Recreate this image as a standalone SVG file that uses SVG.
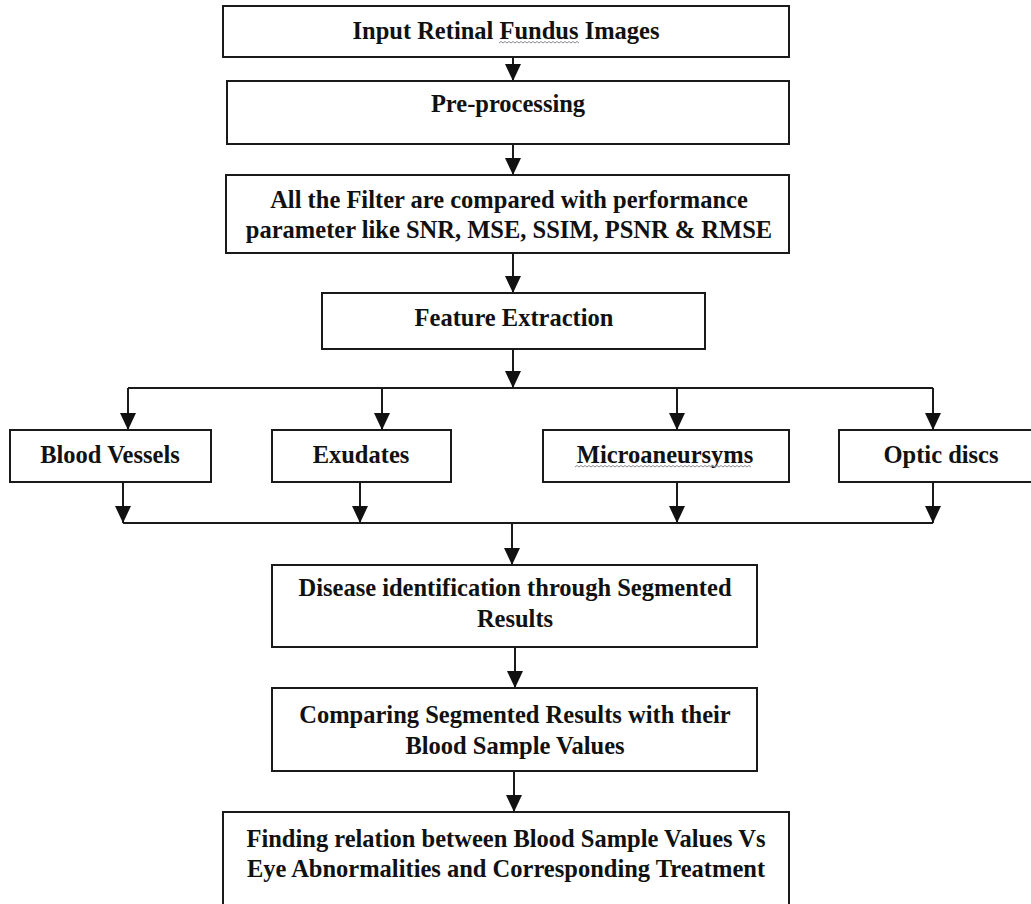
<svg xmlns="http://www.w3.org/2000/svg" width="1031" height="904" viewBox="0 0 1031 904">
<style>
.box{fill:#fff;stroke:#1a1a1a;stroke-width:2}
.t{font-family:"Liberation Serif","Times New Roman",serif;font-weight:bold;font-size:24.5px;fill:#111;text-anchor:middle}
.c{fill:none;stroke:#1a1a1a;stroke-width:2}
.sq{fill:none;stroke:#8a8a9a;stroke-width:1}
</style>
<defs>
<marker id="arr" viewBox="0 0 17 16" refX="17" refY="8" markerWidth="17" markerHeight="16" markerUnits="userSpaceOnUse" orient="auto">
<path d="M0,0 L17,8 L0,16 Z" fill="#111"/>
</marker>
</defs>
<rect width="1031" height="904" fill="#fff"/>
<g id="connectors">
<line class="c" x1="513" y1="57" x2="513" y2="81" marker-end="url(#arr)"/>
<line class="c" x1="513" y1="133" x2="513" y2="175" marker-end="url(#arr)"/>
<line class="c" x1="513" y1="253" x2="513" y2="293" marker-end="url(#arr)"/>
<line class="c" x1="513" y1="349" x2="513" y2="388" marker-end="url(#arr)"/>
<polyline class="c" points="128,388 933,388"/>
<line class="c" x1="128" y1="388" x2="128" y2="430" marker-end="url(#arr)"/>
<line class="c" x1="382" y1="388" x2="382" y2="430" marker-end="url(#arr)"/>
<line class="c" x1="677" y1="388" x2="677" y2="430" marker-end="url(#arr)"/>
<line class="c" x1="933" y1="388" x2="933" y2="430" marker-end="url(#arr)"/>
<line class="c" x1="123" y1="482" x2="123" y2="523" marker-end="url(#arr)"/>
<line class="c" x1="360" y1="482" x2="360" y2="523" marker-end="url(#arr)"/>
<line class="c" x1="677" y1="482" x2="677" y2="523" marker-end="url(#arr)"/>
<line class="c" x1="933" y1="482" x2="933" y2="523" marker-end="url(#arr)"/>
<polyline class="c" points="123,523 933,523"/>
<line class="c" x1="512" y1="523" x2="512" y2="565" marker-end="url(#arr)"/>
<line class="c" x1="515" y1="647" x2="515" y2="688" marker-end="url(#arr)"/>
<line class="c" x1="514" y1="771" x2="514" y2="812" marker-end="url(#arr)"/>
</g>
<g id="n1">
<rect class="box" x="223" y="6" width="566" height="51"/>
<text class="t" x="506" y="39">Input Retinal Fundus Images</text>
<path class="sq" d="M499,43l2,-1.5l2,1.5l2,-1.5l2,1.5l2,-1.5l2,1.5l2,-1.5l2,1.5l2,-1.5l2,1.5l2,-1.5l2,1.5l2,-1.5l2,1.5l2,-1.5l2,1.5l2,-1.5l2,1.5l2,-1.5l2,1.5l2,-1.5l2,1.5l2,-1.5l2,1.5l2,-1.5l2,1.5l2,-1.5l2,1.5l2,-1.5l2,1.5l2,-1.5l2,1.5l2,-1.5l2,1.5l2,-1.5l2,1.5l2,-1.5l2,1.5l2,-1.5l2,1.5"/>
</g>
<g id="n2">
<rect class="box" x="227" y="81" width="562" height="63"/>
<text class="t" x="508" y="112">Pre-processing</text>
</g>
<g id="n3">
<rect class="box" x="226" y="175" width="563" height="78"/>
<text class="t" x="509" y="208">All the Filter are compared with performance</text>
<text class="t" x="509" y="238">parameter like SNR, MSE, SSIM, PSNR &amp; RMSE</text>
</g>
<g id="n4">
<rect class="box" x="322" y="293" width="383" height="56"/>
<text class="t" x="514" y="326">Feature Extraction</text>
</g>
<g id="n5">
<rect class="box" x="10" y="430" width="201" height="52"/>
<text class="t" x="110" y="463">Blood Vessels</text>
</g>
<g id="n6">
<rect class="box" x="272" y="430" width="179" height="52"/>
<text class="t" x="361" y="463">Exudates</text>
</g>
<g id="n7">
<rect class="box" x="543" y="430" width="246" height="52"/>
<text class="t" x="665" y="463">Microaneursyms</text>
<path class="sq" d="M575,467l2,-1.5l2,1.5l2,-1.5l2,1.5l2,-1.5l2,1.5l2,-1.5l2,1.5l2,-1.5l2,1.5l2,-1.5l2,1.5l2,-1.5l2,1.5l2,-1.5l2,1.5l2,-1.5l2,1.5l2,-1.5l2,1.5l2,-1.5l2,1.5l2,-1.5l2,1.5l2,-1.5l2,1.5l2,-1.5l2,1.5l2,-1.5l2,1.5l2,-1.5l2,1.5l2,-1.5l2,1.5l2,-1.5l2,1.5l2,-1.5l2,1.5l2,-1.5l2,1.5l2,-1.5l2,1.5l2,-1.5l2,1.5l2,-1.5l2,1.5l2,-1.5l2,1.5l2,-1.5l2,1.5l2,-1.5l2,1.5l2,-1.5l2,1.5l2,-1.5l2,1.5l2,-1.5l2,1.5l2,-1.5l2,1.5l2,-1.5l2,1.5l2,-1.5l2,1.5l2,-1.5l2,1.5l2,-1.5l2,1.5l2,-1.5l2,1.5l2,-1.5l2,1.5l2,-1.5l2,1.5l2,-1.5l2,1.5l2,-1.5l2,1.5l2,-1.5l2,1.5l2,-1.5l2,1.5l2,-1.5l2,1.5l2,-1.5l2,1.5l2,-1.5l2,1.5"/>
</g>
<g id="n8">
<rect class="box" x="839" y="430" width="210" height="52"/>
<text class="t" x="941" y="463">Optic discs</text>
</g>
<g id="n9">
<rect class="box" x="272" y="565" width="485" height="82"/>
<text class="t" x="515" y="596">Disease identification through Segmented</text>
<text class="t" x="515" y="627">Results</text>
</g>
<g id="n10">
<rect class="box" x="272" y="688" width="485" height="83"/>
<text class="t" x="515" y="723">Comparing Segmented Results with their</text>
<text class="t" x="515" y="754">Blood Sample Values</text>
</g>
<g id="n11">
<rect class="box" x="223" y="812" width="566" height="110"/>
<text class="t" x="506" y="847">Finding relation between Blood Sample Values Vs</text>
<text class="t" x="506" y="877">Eye Abnormalities and Corresponding Treatment</text>
</g>
</svg>
